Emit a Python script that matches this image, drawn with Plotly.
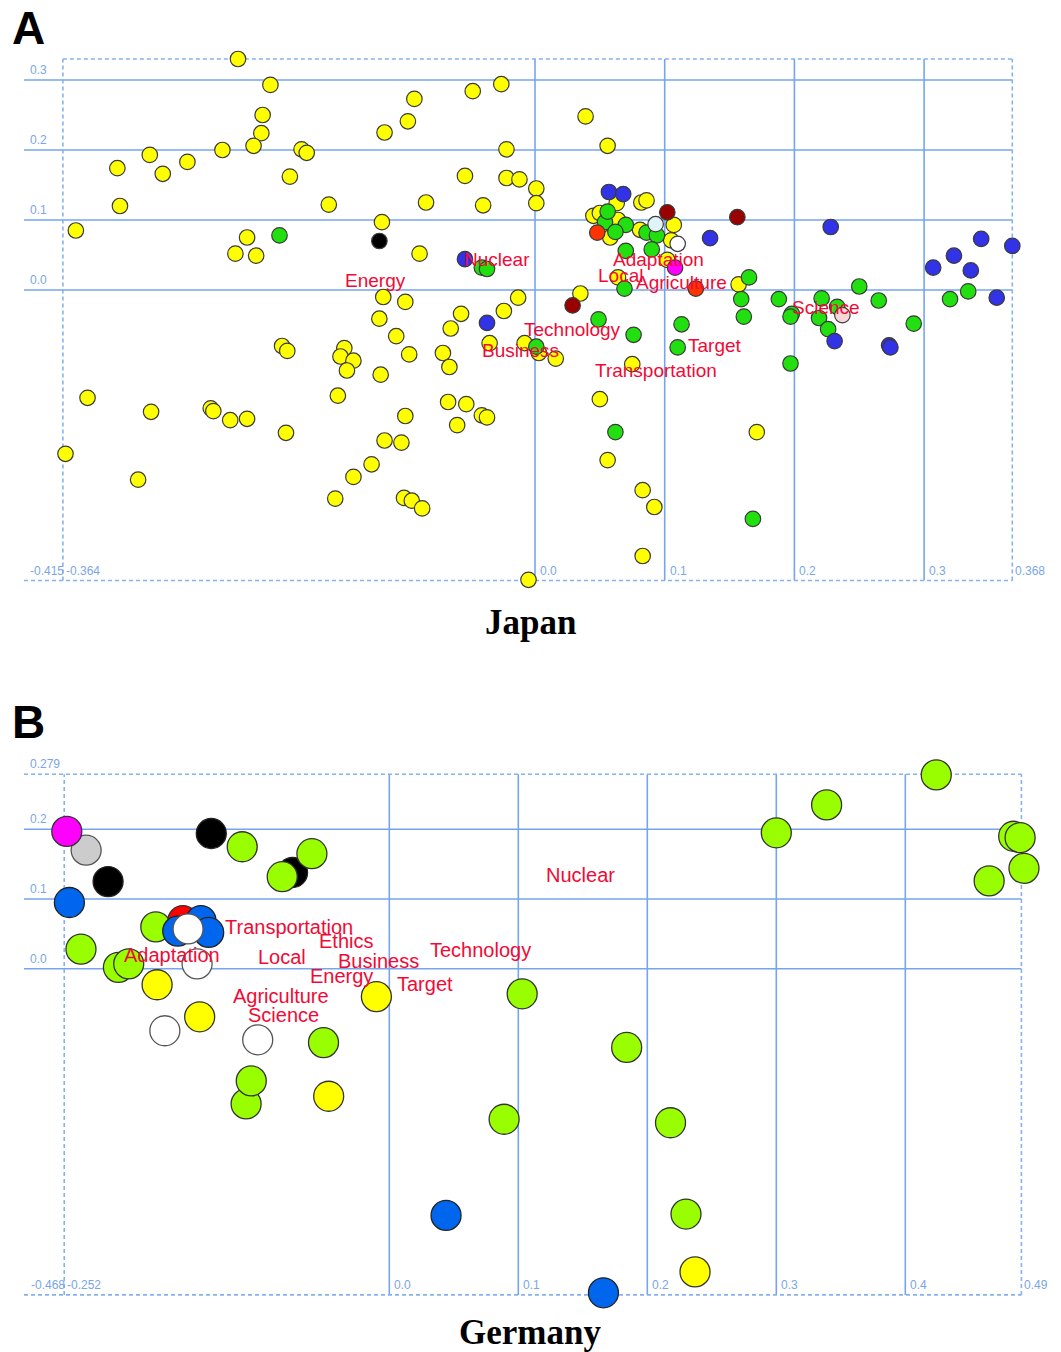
import plotly.graph_objects as go

W, H = 1061, 1352

# ---------------- Panel A (Japan) data ----------------
A_yellow_x = [-0.229, -0.204, -0.210, -0.211, -0.217, -0.241, -0.268, -0.297, -0.287, -0.322, -0.320, -0.354,
              -0.180, -0.176, -0.189, -0.159, -0.222, -0.231, -0.215,
              -0.118, -0.116, -0.098, -0.093, -0.084, -0.089, -0.048, -0.026, -0.022, -0.054, -0.022, -0.012,
              0.001, 0.001, -0.040, -0.117, -0.100, -0.013,
              -0.120, -0.107, -0.097, -0.057, -0.065, -0.024, -0.071, -0.066, -0.035, -0.008, -0.119,
              -0.195, -0.191, -0.147, -0.150, -0.140, -0.145, -0.152, -0.345, -0.296, -0.250, -0.248,
              -0.235, -0.222, -0.192, -0.362, -0.306, -0.100, -0.116, -0.103, -0.126, -0.140, -0.154,
              -0.101, -0.095, -0.087, -0.067, -0.053, -0.041, -0.037, -0.060, -0.005,
              0.039, 0.056, 0.063, 0.082, 0.086, 0.045, 0.050, 0.064, 0.058, 0.081, 0.107, 0.105, 0.102,
              0.064, 0.157, 0.035,
              0.003, 0.016, 0.075, 0.050, 0.056, 0.083, 0.092, 0.083, 0.171]
A_yellow_y = [0.330, 0.293, 0.250, 0.224, 0.206, 0.200, 0.183, 0.193, 0.166, 0.174, 0.120, 0.085,
              0.201, 0.196, 0.162, 0.122, 0.075, 0.052, 0.049,
              0.097, 0.225, 0.241, 0.273, 0.125, 0.052, 0.284, 0.294, 0.201, 0.163, 0.160, 0.158,
              0.145, 0.124, 0.121, -0.010, -0.017, -0.011,
              -0.041, -0.066, -0.092, -0.034, -0.055, -0.030, -0.090, -0.110, -0.076, -0.076, -0.121,
              -0.080, -0.087, -0.083, -0.095, -0.101, -0.115, -0.151, -0.154, -0.174, -0.169, -0.173,
              -0.186, -0.184, -0.204, -0.234, -0.271, -0.180, -0.215, -0.218, -0.249, -0.267, -0.298,
              -0.297, -0.301, -0.312, -0.160, -0.163, -0.179, -0.182, -0.193, -0.414,
              0.248, 0.206, 0.124, 0.125, 0.128, 0.106, 0.110, 0.100, 0.075, 0.086, 0.093, 0.071, 0.043,
              0.018, 0.008, -0.005,
              -0.090, -0.098, -0.106, -0.156, -0.243, -0.286, -0.310, -0.380, -0.203]

A_green_x = [-0.197, -0.041, -0.037, 0.001, 0.054, 0.056, 0.070, 0.062, 0.086, 0.094, 0.070, 0.090,
             0.069, 0.165, 0.159, 0.188, 0.221, 0.250, 0.265, 0.320, 0.334, 0.049, 0.076, 0.113, 0.110,
             0.161, 0.198, 0.197, 0.233, 0.219, 0.226, 0.292, 0.197, 0.062, 0.168]
A_green_y = [0.078, 0.032, 0.030, -0.081, 0.097, 0.112, 0.093, 0.083, 0.082, 0.078, 0.056, 0.058,
             0.002, 0.018, -0.013, -0.013, -0.012, 0.005, -0.015, -0.013, -0.002, -0.042, -0.064, -0.049, -0.082,
             -0.038, -0.034, -0.038, -0.024, -0.040, -0.056, -0.048, -0.105, -0.203, -0.327]

A_blue_x = [-0.054, -0.037, 0.057, 0.068, 0.135, 0.228, 0.307, 0.323, 0.344, 0.336, 0.368, 0.356,
            0.231, 0.273, 0.274]
A_blue_y = [0.044, -0.047, 0.140, 0.137, 0.074, 0.090, 0.032, 0.049, 0.073, 0.028, 0.063, -0.011,
            -0.073, -0.079, -0.082]

A_darkred_x = [0.102, 0.156, 0.029]
A_darkred_y = [0.111, 0.104, -0.022]
A_red_x = [0.048, 0.124]
A_red_y = [0.082, 0.002]
A_magenta_x = [0.108]
A_magenta_y = [0.032]
A_white_x = [0.110]
A_white_y = [0.066]
A_cyan_x = [0.093]
A_cyan_y = [0.094]
A_pink_x = [0.237]
A_pink_y = [-0.036]
A_black_x = [-0.120]
A_black_y = [0.070]

A_labels = ["Nuclear", "Energy", "Adaptation", "Local", "Agriculture", "Science",
            "Technology", "Business", "Target", "Transportation"]
A_label_x = [-0.029, -0.123, 0.095, 0.066, 0.113, 0.224, 0.029, -0.011, 0.139, 0.093]
A_label_y = [0.043, 0.013, 0.044, 0.021, 0.010, -0.025, -0.057, -0.087, -0.080, -0.115]

A_xmin, A_xmax, A_ymin, A_ymax = -0.364, 0.368, -0.415, 0.33
A_xgrid = [0.0, 0.1, 0.2, 0.3]
A_ygrid = [0.0, 0.1, 0.2, 0.3]
A_xticklabels = ["0.0", "0.1", "0.2", "0.3"]
A_yticklabels = ["0.0", "0.1", "0.2", "0.3"]

# ---------------- Panel B (Germany) data ----------------
B_black_x = [-0.218, -0.138, -0.075]
B_black_y = [0.125, 0.194, 0.138]
B_gray_x = [-0.235]
B_gray_y = [0.170]
B_green_x = [-0.114, -0.083, -0.060, -0.181, -0.239, -0.210, -0.202, -0.051, -0.111, -0.107,
             0.103, 0.089, 0.424, 0.339, 0.300, 0.484, 0.489, 0.492, 0.465, 0.184, 0.218, 0.230]
B_green_y = [0.175, 0.132, 0.165, 0.060, 0.028, 0.002, 0.007, -0.106, -0.194, -0.161,
             -0.036, -0.216, 0.278, 0.235, 0.195, 0.190, 0.188, 0.144, 0.126, -0.113, -0.221, -0.352]
B_red_x = [-0.160]
B_red_y = [0.069]
B_blue_x = [-0.248, -0.164, -0.146, -0.140, 0.044, 0.166]
B_blue_y = [0.095, 0.054, 0.069, 0.052, -0.354, -0.465]
B_yellow_x = [-0.180, -0.147, -0.047, -0.010, 0.237]
B_yellow_y = [-0.023, -0.069, -0.183, -0.040, -0.435]
B_white_x = [-0.156, -0.149, -0.174, -0.102]
B_white_y = [0.057, 0.007, -0.089, -0.102]
B_magenta_x = [-0.250]
B_magenta_y = [0.197]

B_labels = ["Transportation", "Ethics", "Adaptation", "Local", "Business", "Technology",
            "Energy", "Target", "Agriculture", "Science", "Nuclear"]
B_label_x = [-0.0775, -0.0335, -0.1685, -0.083, -0.0085, 0.071, -0.037, 0.0276, -0.084, -0.082, 0.148]
B_label_y = [0.060, 0.040, 0.020, 0.017, 0.011, 0.027, -0.010, -0.0216, -0.039, -0.067, 0.135]

B_xmin, B_xmax, B_ymin, B_ymax = -0.252, 0.490, -0.468, 0.279
B_xgrid = [0.0, 0.1, 0.2, 0.3, 0.4]
B_ygrid = [0.0, 0.1, 0.2]
B_xticklabels = ["0.0", "0.1", "0.2", "0.3", "0.4"]
B_yticklabels = ["0.0", "0.1", "0.2"]

# ---------------- layout calibration (pixels) ----------------
A_X0, A_SX, A_Y0, A_SY = 535.0, 1297.0, 290.0, 700.0
A_TOP, A_BOT = 20.0, 600.0
B_X0, B_SX, B_Y0, B_SY = 389.3, 1290.0, 968.7, 697.0
B_TOP, B_BOT = 740.0, 1310.0
LEFT_PX = 24.0

GRID = "#76a5ee"
BORDER = "#86b2f0"
TICKC = "#7aa6e6"
LABELC = "#f20a36"
TICKSIZE = 12

fig = go.Figure()


def add_group(xs, ys, color, xa, ya, size, lc="#3a3a3a", lw=1.2):
    fig.add_trace(go.Scatter(x=xs, y=ys, mode="markers", xaxis=xa, yaxis=ya,
                             marker=dict(size=size, color=color, line=dict(color=lc, width=lw)),
                             showlegend=False, hoverinfo="skip"))


# Panel A markers
SA = 15.5
add_group(A_yellow_x, A_yellow_y, "#ffff00", "x", "y", SA)
add_group(A_green_x, A_green_y, "#22e010", "x", "y", SA)
add_group(A_blue_x, A_blue_y, "#3232e6", "x", "y", SA)
add_group(A_darkred_x, A_darkred_y, "#990000", "x", "y", SA)
add_group(A_red_x, A_red_y, "#ff3300", "x", "y", SA)
add_group(A_magenta_x, A_magenta_y, "#ff00ff", "x", "y", SA)
add_group(A_white_x, A_white_y, "#ffffff", "x", "y", SA)
add_group(A_cyan_x, A_cyan_y, "#dff3f8", "x", "y", SA)
add_group(A_pink_x, A_pink_y, "#f6d6d6", "x", "y", SA)
add_group(A_black_x, A_black_y, "#000000", "x", "y", SA)

# Panel B markers
SB = 30
add_group(B_black_x, B_black_y, "#000000", "x2", "y2", SB, "#222222", 1.3)
add_group(B_gray_x, B_gray_y, "#cccccc", "x2", "y2", SB, "#555555", 1.3)
add_group(B_green_x, B_green_y, "#99ff00", "x2", "y2", SB, "#333333", 1.3)
add_group(B_red_x, B_red_y, "#ff0000", "x2", "y2", SB, "#333333", 1.3)
add_group(B_blue_x, B_blue_y, "#0066ee", "x2", "y2", SB, "#222222", 1.3)
add_group(B_yellow_x, B_yellow_y, "#ffff00", "x2", "y2", SB, "#333333", 1.3)
add_group(B_white_x, B_white_y, "#ffffff", "x2", "y2", SB, "#555555", 1.3)
add_group(B_magenta_x, B_magenta_y, "#ff00ff", "x2", "y2", SB, "#333333", 1.3)

shapes = []


def seg(x0, y0, x1, y1, xr, yr, color, dash="solid", width=1.6):
    shapes.append(dict(type="line", x0=x0, y0=y0, x1=x1, y1=y1, xref=xr, yref=yr, layer="below",
                       line=dict(color=color, width=width, dash=dash)))


annotations = []


def txt(text, x, y, xr, yr, size, color, xanchor="center", yanchor="middle", family="Arial", xshift=0, yshift=0):
    annotations.append(dict(text=text, x=x, y=y, xref=xr, yref=yr, showarrow=False,
                            xanchor=xanchor, yanchor=yanchor, xshift=xshift, yshift=yshift,
                            font=dict(size=size, color=color, family=family)))


# Panel A frame
A_left = (LEFT_PX - A_X0) / A_SX
for yv in A_ygrid:
    seg(A_left, yv, A_xmax, yv, "x", "y", GRID)
for xv in A_xgrid:
    seg(xv, A_ymin, xv, A_ymax, "x", "y", GRID)
seg(A_xmin, A_ymax, A_xmax, A_ymax, "x", "y", BORDER, "4px,3px")
seg(A_left, A_ymin, A_xmax, A_ymin, "x", "y", BORDER, "4px,3px")
seg(A_xmin, A_ymin, A_xmin, A_ymax, "x", "y", BORDER, "4px,3px")
seg(A_xmax, A_ymin, A_xmax, A_ymax, "x", "y", BORDER, "4px,3px")

for yv, lab in zip(A_ygrid, A_yticklabels):
    txt(lab, 28 / W, yv, "paper", "y", TICKSIZE, TICKC, "left", "bottom", yshift=1)
for xv, lab in zip(A_xgrid, A_xticklabels):
    txt(lab, xv, A_ymin, "x", "y", TICKSIZE, TICKC, "left", "bottom", xshift=3, yshift=1)
txt(f"{A_xmin:.3f}", A_xmin, A_ymin, "x", "y", TICKSIZE, TICKC, "left", "bottom", xshift=1, yshift=1)
txt(f"{A_ymin:.3f}", A_xmin, A_ymin, "x", "y", TICKSIZE, TICKC, "right", "bottom", xshift=3, yshift=1)
txt(f"{A_xmax:.3f}", A_xmax, A_ymin, "x", "y", TICKSIZE, TICKC, "left", "bottom", xshift=1, yshift=1)

for lab, xv, yv in zip(A_labels, A_label_x, A_label_y):
    txt(lab, xv, yv, "x", "y", 19, LABELC)

# Panel B frame
B_left = (LEFT_PX - B_X0) / B_SX
for yv in B_ygrid:
    seg(B_left, yv, B_xmax, yv, "x2", "y2", GRID)
for xv in B_xgrid:
    seg(xv, B_ymin, xv, B_ymax, "x2", "y2", GRID)
seg(B_left, B_ymax, B_xmax, B_ymax, "x2", "y2", BORDER, "4px,3px")
seg(B_left, B_ymin, B_xmax, B_ymin, "x2", "y2", BORDER, "4px,3px")
seg(B_xmin, B_ymin, B_xmin, B_ymax, "x2", "y2", BORDER, "4px,3px")
seg(B_xmax, B_ymin, B_xmax, B_ymax, "x2", "y2", BORDER, "4px,3px")

for yv, lab in zip(B_ygrid, B_yticklabels):
    txt(lab, 28 / W, yv, "paper", "y2", TICKSIZE, TICKC, "left", "bottom", yshift=1)
txt(f"{B_ymax:.3f}", 28 / W, B_ymax, "paper", "y2", TICKSIZE, TICKC, "left", "bottom", yshift=1)
for xv, lab in zip(B_xgrid, B_xticklabels):
    txt(lab, xv, B_ymin, "x2", "y2", TICKSIZE, TICKC, "left", "bottom", xshift=3, yshift=1)
txt(f"{B_xmin:.3f}", B_xmin, B_ymin, "x2", "y2", TICKSIZE, TICKC, "left", "bottom", xshift=1, yshift=1)
txt(f"{B_ymin:.3f}", B_xmin, B_ymin, "x2", "y2", TICKSIZE, TICKC, "right", "bottom", xshift=3, yshift=1)
txt(f"{B_xmax:.2f}", B_xmax, B_ymin, "x2", "y2", TICKSIZE, TICKC, "left", "bottom", xshift=1, yshift=1)

for lab, xv, yv in zip(B_labels, B_label_x, B_label_y):
    txt(lab, xv, yv, "x2", "y2", 20, LABELC)

# Panel letters and titles
txt("<b>A</b>", 10 / W, 1 - 28 / H, "paper", "paper", 46, "#000000", "left", "middle", "Arial")
txt("<b>B</b>", 10 / W, 1 - 722 / H, "paper", "paper", 46, "#000000", "left", "middle", "Arial")
txt("<b>Japan</b>", 530 / W, 1 - 622 / H, "paper", "paper", 35, "#000000", "center", "middle",
    "Times New Roman, Liberation Serif, serif")
txt("<b>Germany</b>", 530 / W, 1 - 1332 / H, "paper", "paper", 35, "#000000", "center", "middle",
    "Times New Roman, Liberation Serif, serif")

ax_common = dict(showgrid=False, zeroline=False, showticklabels=False, showline=False, ticks="")
fig.update_layout(
    width=W, height=H, margin=dict(l=0, r=0, t=0, b=0),
    paper_bgcolor="white", plot_bgcolor="rgba(0,0,0,0)",
    xaxis=dict(domain=[0, 1], range=[(0 - A_X0) / A_SX, (W - A_X0) / A_SX], anchor="y", **ax_common),
    yaxis=dict(domain=[1 - A_BOT / H, 1 - A_TOP / H], range=[(A_Y0 - A_BOT) / A_SY, (A_Y0 - A_TOP) / A_SY],
               anchor="x", **ax_common),
    xaxis2=dict(domain=[0, 1], range=[(0 - B_X0) / B_SX, (W - B_X0) / B_SX], anchor="y2", **ax_common),
    yaxis2=dict(domain=[1 - B_BOT / H, 1 - B_TOP / H], range=[(B_Y0 - B_BOT) / B_SY, (B_Y0 - B_TOP) / B_SY],
                anchor="x2", **ax_common),
    shapes=shapes, annotations=annotations,
)

fig.write_html("out.html", config={"displayModeBar": False},
               post_script="document.body.style.margin='0';document.body.style.padding='0';"
                           "document.body.style.overflow='hidden';")
